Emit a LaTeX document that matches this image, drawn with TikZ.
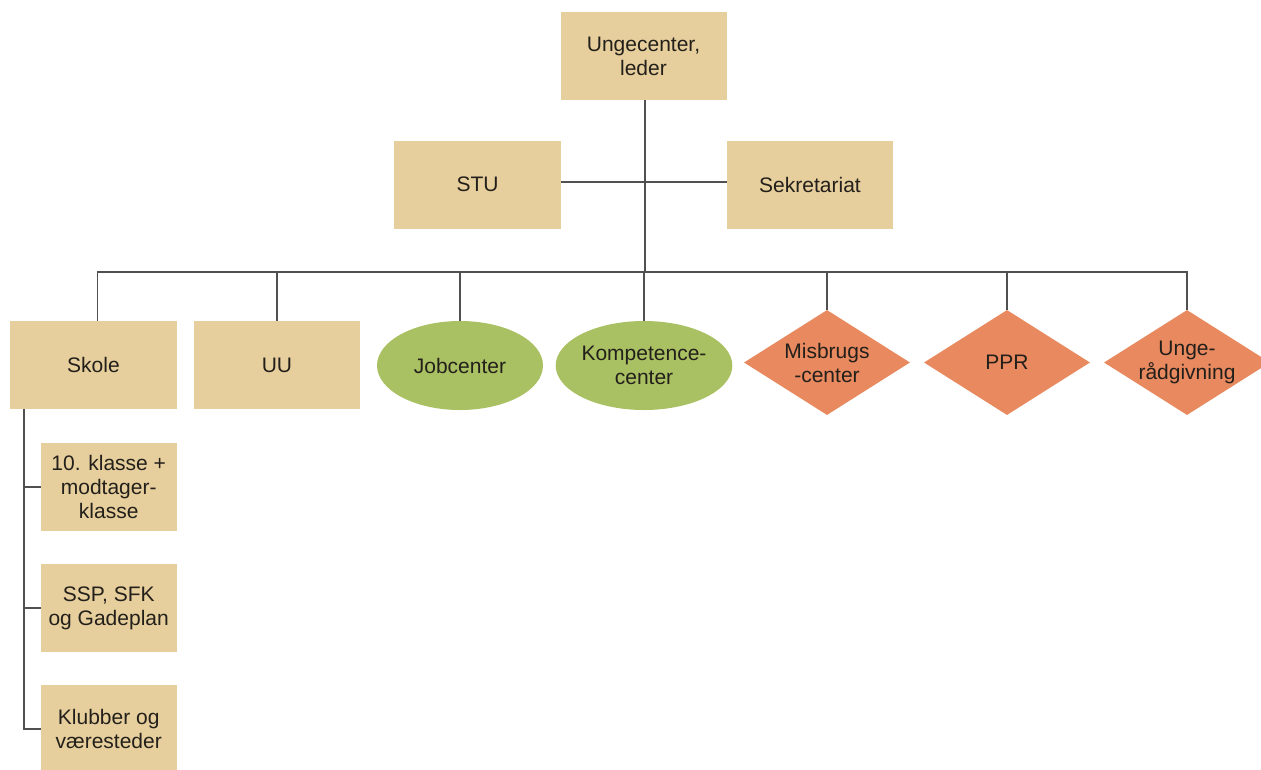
\documentclass[tikz,border=0pt]{standalone}
\usepackage{fontspec}
\setmainfont{Liberation Sans}
\usetikzlibrary{shapes.geometric}
\definecolor{tanfill}{HTML}{E6CF9D}
\definecolor{greenfill}{HTML}{A9C163}
\definecolor{orangefill}{HTML}{E8895F}
\definecolor{linecol}{HTML}{505050}
\definecolor{txtcol}{HTML}{231F1A}
\begin{document}
\begin{tikzpicture}[x=1pt,y=-1pt,
  every node/.style={font=\fontsize{21}{24}\selectfont, text=txtcol, align=center, inner sep=0pt},
  tanbox/.style={rectangle, fill=tanfill, minimum width=166pt, minimum height=88pt},
  smallbox/.style={rectangle, fill=tanfill, minimum width=136pt, minimum height=88pt},
  greenell/.style={ellipse, fill=greenfill, minimum width=166pt, minimum height=89pt},
  orangedia/.style={diamond, fill=orangefill, minimum width=166pt, minimum height=105pt, shape aspect=1.58},
  conn/.style={draw=linecol, line width=1.5pt}]
\useasboundingbox (0,0) rectangle (1261,769);
\node[tanbox] (top) at (643.5,56) {Ungecenter,\\leder};
\node[tanbox, minimum width=167pt] (stu) at (477.5,184.5) {STU};
\node[tanbox] (sek) at (810,184.5) {Sekretariat};
\node[tanbox, minimum width=167pt] (skole) at (93.5,365) {Skole};
\node[tanbox] (uu) at (277,365) {UU};
\node[greenell] (job) at (460,365.5) {Jobcenter};
\node[greenell, minimum width=168pt] (komp) at (644,365.5) {Kompetence-\\center};
\node[orangedia] (mis) at (827,362.5) {Misbrugs\\-center};
\node[orangedia] (ppr) at (1007,362.5) {PPR};
\node[orangedia] (unge) at (1187,362.5) {Unge-\\rådgivning};
\node[smallbox] (c1) at (108.7,487) {10. klasse +\\modtager-\\klasse};
\node[smallbox] (c2) at (108.7,608) {SSP, SFK\\og Gadeplan};
\node[smallbox] (c3) at (108.7,729) {Klubber og\\væresteder};
\coordinate (bus) at (645,272);
\coordinate (sb) at (24,409);
\coordinate (sktop) at (97.5,321);
\coordinate (side) at (0,182);
\draw[conn] (top.south -| bus) -- (bus);
\draw[conn] (stu.east |- side) -- (sek.west |- side);
\draw[conn] (sktop) |- (bus);
\foreach \n in {uu,job,komp,mis,ppr,unge}{
  \draw[conn] (\n.north) |- (bus);
}
\draw[conn] (sb) |- (c1.west);
\draw[conn] (sb) |- (c2.west);
\draw[conn] (sb) |- (c3.west);
\end{tikzpicture}
\end{document}
